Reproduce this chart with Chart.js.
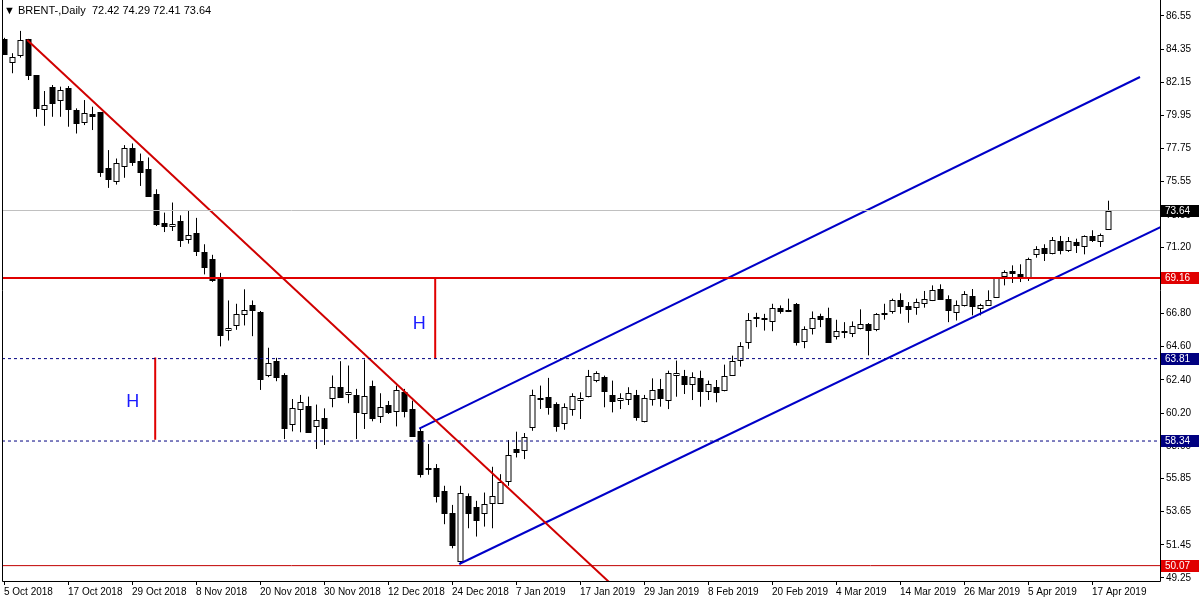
<!DOCTYPE html>
<html><head><meta charset="utf-8">
<script src="https://cdn.jsdelivr.net/npm/chart.js@4/dist/chart.umd.min.js"></script>
<style>html,body{margin:0;padding:0;background:#fff}#w{width:1200px;height:600px;position:relative}</style>
</head><body><div id="w"><canvas id="c"></canvas></div>
<script>
const dateLabels=["5 Oct 2018","17 Oct 2018","29 Oct 2018","8 Nov 2018","20 Nov 2018","30 Nov 2018","12 Dec 2018","24 Dec 2018","7 Jan 2019","17 Jan 2019","29 Jan 2019","8 Feb 2019","20 Feb 2019","4 Mar 2019","14 Mar 2019","26 Mar 2019","5 Apr 2019","17 Apr 2019"];
const priceTicks=[86.55,84.35,82.15,79.95,77.75,75.55,73.35,71.20,69.00,66.80,64.60,62.40,60.20,58.00,55.85,53.65,51.45,49.25];
const opens=[85.03,83.48,83.96,85.03,82.63,80.35,81.86,80.97,81.79,80.31,79.49,80.02,80.15,76.43,75.61,76.60,77.82,76.91,76.38,74.76,72.84,72.61,72.92,71.77,72.17,70.9,70.4,69.23,65.68,66.06,66.79,67.34,66.90,62.69,63.68,62.69,59.47,60.47,60.69,59.32,59.85,61.2,61.95,61.47,61.42,60.2,62.02,59.98,60.76,60.35,61.57,60.47,59.02,56.54,56.54,55.03,53.55,50.38,54.70,53.93,53.55,54.21,54.26,55.66,57.81,57.74,59.25,61.2,61.29,60.8,59.51,60.47,61.06,61.31,62.42,62.62,61.40,61.06,61.13,61.42,59.69,61.13,61.80,61.06,62.75,62.64,62.13,62.53,61.68,61.91,61.73,62.73,63.75,64.90,66.56,66.52,66.3,67.19,67.01,67.41,64.97,65.86,66.61,66.52,65.30,65.63,65.50,65.86,66.08,65.79,66.85,66.94,67.72,67.28,67.23,67.52,67.67,68.45,67.79,66.90,67.34,67.94,67.19,67.39,67.90,69.27,69.60,69.45,69.23,70.73,71.18,70.84,71.60,71.04,71.55,71.27,71.93,71.62,72.42];
const highs=[85.1,84.08,85.56,85.03,82.63,81.57,81.97,81.86,81.90,80.42,80.97,80.53,80.15,77.65,77.09,77.98,78.09,77.42,77.16,75.05,73.50,74.17,73.32,73.66,73.15,71.4,70.7,69.5,67.67,67.45,68.41,67.67,66.97,64.53,63.86,62.84,61.13,61.40,61.29,60.76,60.51,62.69,63.64,63.35,61.8,63.75,62.35,61.51,61.0,62.02,61.80,61.02,59.25,58.14,56.81,55.37,54.10,55.37,54.86,54.37,54.92,56.63,56.14,58.40,58.96,58.87,61.75,62.02,62.53,60.91,60.84,61.51,61.57,63.06,62.97,62.68,62.35,61.51,61.91,61.73,61.40,62.50,62.46,63.01,63.68,63.06,62.90,63.01,62.35,62.39,63.41,64.01,64.90,66.83,66.85,66.78,67.45,67.34,67.79,67.5,65.95,66.94,66.79,67.19,66.39,66.23,66.28,67.08,66.17,66.83,67.45,67.79,68.14,67.56,67.79,68.30,68.67,68.74,68.01,67.67,68.29,68.43,67.45,68.34,69.18,69.67,70.00,70.07,70.51,71.27,71.40,71.88,71.95,71.88,71.77,71.99,72.33,72.11,74.29];
const lows=[84.0,82.75,83.79,82.30,79.86,79.26,79.86,79.86,79.20,78.75,79.31,78.98,75.87,75.14,75.36,75.81,76.60,75.27,74.61,72.61,72.21,72.28,71.22,71.44,70.62,69.4,68.9,64.62,65.01,65.72,66.01,65.30,61.73,62.58,62.31,58.47,58.98,58.92,58.92,57.81,58.08,60.58,61.2,60.85,58.47,59.14,59.65,59.54,60.14,59.31,59.91,58.65,55.92,56.10,54.26,52.82,51.22,50.16,52.55,52.0,52.66,52.55,54.21,55.37,57.25,57.14,59.02,60.47,60.09,58.96,59.09,60.02,59.80,61.24,62.24,60.58,60.24,60.46,60.73,59.69,59.58,60.69,60.62,60.46,61.28,61.46,61.06,60.62,61.06,60.91,61.64,62.68,63.28,64.46,65.90,65.67,65.63,66.79,66.9,64.68,64.5,65.41,65.9,64.90,65.08,65.17,65.24,65.75,64.02,65.63,66.39,66.79,66.79,66.19,66.72,67.19,67.63,67.72,66.23,66.34,67.27,66.68,66.68,67.34,67.85,68.67,68.83,68.89,68.96,70.51,70.29,70.73,70.73,70.89,70.82,70.73,71.55,71.22,72.41];
const closes=[84.01,83.85,84.96,82.63,80.42,80.64,80.79,81.64,80.35,79.42,80.09,79.93,76.21,75.72,76.76,77.76,76.87,76.21,74.61,72.72,72.61,72.77,71.70,72.04,70.93,69.9,69.05,65.39,65.86,66.79,67.05,67.05,62.46,63.53,62.58,59.21,60.51,60.96,58.92,59.74,59.21,61.95,61.29,61.62,60.25,61.36,59.85,60.58,60.25,61.73,60.31,58.65,56.14,56.54,54.70,53.53,51.42,54.86,53.59,53.08,54.15,54.66,55.63,57.41,57.58,58.58,61.40,61.2,60.58,59.36,60.62,61.35,61.20,62.64,62.84,61.64,60.97,61.20,61.53,59.91,61.20,61.73,61.20,62.86,62.86,62.13,62.57,61.64,62.13,61.57,62.64,63.63,64.63,66.38,66.52,66.45,67.19,66.97,66.97,64.90,65.79,66.52,66.45,64.90,65.63,65.59,65.97,66.12,65.72,66.74,66.79,67.67,67.28,67.08,67.56,67.74,68.34,67.79,67.01,67.34,68.07,67.27,67.34,67.67,69.18,69.54,69.51,69.23,70.44,71.11,70.82,71.66,71.04,71.60,71.33,71.93,71.71,71.99,73.64];
const levels=[{v:73.64,bg:'#000000',line:'#c0c0c0',w:1,dash:[]},{v:69.16,bg:'#e00000',line:'#e00000',w:2,dash:[]},{v:63.81,bg:'#000080',line:'#000080',w:1,dash:[3,3]},{v:58.34,bg:'#000080',line:'#000080',w:1,dash:[3,3]},{v:50.07,bg:'#e00000',line:'#c00000',w:1,dash:[]}];
const downTrend=[{x:2.9,y:84.96},{x:76,y:48.8}];
const chanLower=[{x:56.9,y:50.18},{x:145,y:72.65}];
const chanUpper=[{x:51.9,y:59.16},{x:142,y:82.5}];
const hMarks=[{x:18.9,top:63.88,bot:58.43,tx:16.1,ty:60.9},{x:53.9,top:69.2,bot:63.81,tx:51.9,ty:66.1}];

const XMIN=-0.25,XMAX=144.5,YMIN=49.05,YMAX=87.08;
const datasets=[];
levels.forEach(l=>datasets.push({data:[{x:XMIN,y:l.v},{x:XMAX,y:l.v}],borderColor:l.line,borderWidth:l.w,borderDash:l.dash}));
datasets.push({data:downTrend,borderColor:'#d00000',borderWidth:2});
datasets.push({data:chanLower,borderColor:'#0000c8',borderWidth:2});
datasets.push({data:chanUpper,borderColor:'#0000c8',borderWidth:2});
hMarks.forEach(h=>datasets.push({data:[{x:h.x,y:h.top},{x:h.x,y:h.bot}],borderColor:'#e00000',borderWidth:2}));

const candlePlugin={id:'candles',
beforeDatasetsDraw(ch){const c=ch.ctx,xs=ch.scales.x,ys=ch.scales.y,a=ch.chartArea;
 c.save();c.beginPath();c.rect(a.left,a.top,a.right-a.left,a.bottom-a.top);c.clip();
 for(let i=0;i<opens.length;i++){const x=Math.round(xs.getPixelForValue(i))+0.5;
  const yo=ys.getPixelForValue(opens[i]),yc=ys.getPixelForValue(closes[i]),yh=ys.getPixelForValue(highs[i]),yl=ys.getPixelForValue(lows[i]);
  c.strokeStyle='#000';c.lineWidth=1;c.beginPath();c.moveTo(x,yh);c.lineTo(x,yl);c.stroke();
  const t=Math.round(Math.min(yo,yc))+0.5,b=Math.round(Math.max(yo,yc))+0.5;
  if(closes[i]>opens[i]){c.fillStyle='#fff';c.fillRect(x-2.5,t,5,b-t);c.strokeRect(x-2.5,t,5,b-t);}
  else{c.fillStyle='#000';c.fillRect(x-3,t-0.5,6,Math.max(b-t,1)+1);}
 }
 c.restore();},
afterDraw(ch){const c=ch.ctx,xs=ch.scales.x,ys=ch.scales.y,a=ch.chartArea;
 c.save();
 c.strokeStyle='#000';c.lineWidth=1;c.beginPath();c.moveTo(a.left+0.5,0);c.lineTo(a.left+0.5,a.bottom+0.5);c.lineTo(a.right+0.5,a.bottom+0.5);c.lineTo(a.right+0.5,0);c.stroke();
 c.font='18px "Liberation Sans"';c.fillStyle='#1a1aff';c.textAlign='center';c.textBaseline='middle';
 hMarks.forEach(h=>c.fillText('H',xs.getPixelForValue(h.tx),ys.getPixelForValue(h.ty)));
 c.font='10px "Liberation Sans"';c.textAlign='left';
 levels.forEach(l=>{const y=Math.round(ys.getPixelForValue(l.v));c.fillStyle=l.bg;c.fillRect(a.right+1,y-6,38,12);c.fillStyle='#fff';c.fillText(l.v.toFixed(2),a.right+5,y+0.5);});
 c.font='11px "Liberation Sans"';c.fillStyle='#000';c.fillText('\u25BC BRENT-,Daily  72.42 74.29 72.41 73.64',4,11);
 c.restore();}};

new Chart(document.getElementById('c'),{type:'scatter',
data:{datasets:datasets.map(d=>Object.assign({showLine:true,pointRadius:0,fill:false,tension:0},d))},
options:{responsive:true,maintainAspectRatio:false,animation:false,
 layout:{padding:{left:2,top:1,right:0,bottom:0}},
 plugins:{legend:{display:false},tooltip:{enabled:false}},
 scales:{
  x:{type:'linear',min:XMIN,max:XMAX,grid:{display:true,drawOnChartArea:false,tickLength:4,color:'#000'},border:{display:false},
   afterBuildTicks(s){s.ticks=dateLabels.map((l,k)=>({value:k*8}));},
   afterFit(s){s.height=19;},
   ticks:{autoSkip:false,maxRotation:0,align:'start',padding:1,color:'#000',font:{family:'Liberation Sans',size:10},callback:(v,k)=>dateLabels[k]}},
  y:{position:'right',min:YMIN,max:YMAX,grid:{display:true,drawOnChartArea:false,tickLength:4,color:'#000'},border:{display:false},
   afterBuildTicks(s){s.ticks=priceTicks.map(v=>({value:v}));},
   afterFit(s){s.width=40;},
   ticks:{autoSkip:false,padding:2,color:'#000',font:{family:'Liberation Sans',size:10},callback:v=>v.toFixed(2)}}
 }},
plugins:[candlePlugin]});
</script></body></html>
